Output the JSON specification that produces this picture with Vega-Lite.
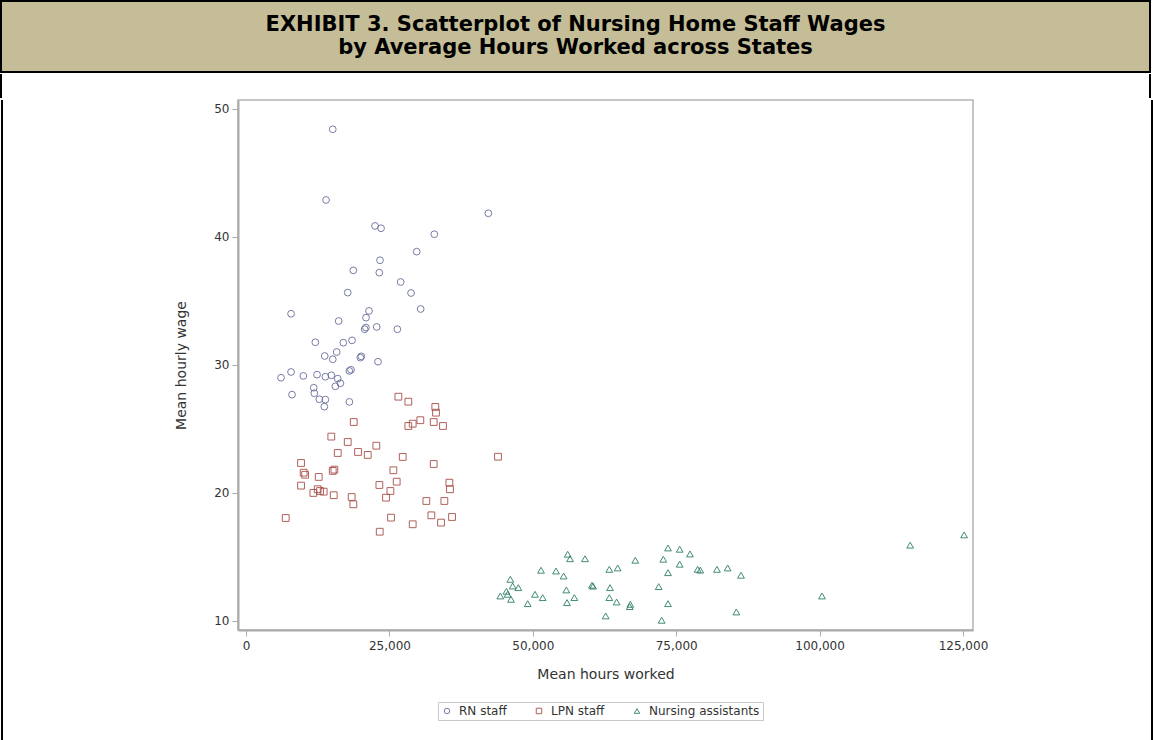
{
  "$schema": "https://vega.github.io/schema/vega-lite/v6.json",
  "padding": 0,
  "background": "white",
  "spacing": 0,
  "resolve": {"scale": {"color": "independent", "shape": "independent"}},
  "vconcat": [
    {
      "width": 1149,
      "height": 71,
      "view": {"fill": "#c4bd97", "stroke": "black", "strokeWidth": 2},
      "data": {"values": [
        {"line": 1, "text": "EXHIBIT 3. Scatterplot of Nursing Home Staff Wages"},
        {"line": 2, "text": "by Average Hours Worked across States"}
      ]},
      "mark": {"type": "text", "font": "DejaVu Sans", "fontWeight": "bold", "fontSize": 21, "color": "black", "baseline": "middle"},
      "encoding": {
        "y": {"field": "line", "type": "ordinal", "axis": null, "scale": {"type": "point", "padding": 1.11}},
        "text": {"field": "text"}
      }
    },
    {
      "width": 1149,
      "height": 24,
      "view": {"fill": "white", "stroke": "black", "strokeWidth": 2, "strokeDash": [0, 1149, 24, 1149, 24, 0]},
      "data": {"values": []},
      "mark": "point"
    },
    {
      "spacing": 162,
      "resolve": {"scale": {"color": "independent", "shape": "independent"}},
      "hconcat": [
        {
          "spacing": 170,
          "resolve": {"scale": {"color": "independent", "shape": "independent"}},
          "hconcat": [
            {
              "width": 2,
              "height": 660,
              "view": {"fill": "black", "stroke": null},
              "data": {"values": []},
              "mark": "point"
            },
            {
              "width": 735,
              "height": 530,
              "view": {"stroke": "#b4b4b4", "strokeWidth": 1.5},
              "data": {"values": [
                {"group": "RN staff", "hours": 15120, "wage": 48.39},
                {"group": "RN staff", "hours": 13950, "wage": 42.87},
                {"group": "RN staff", "hours": 42250, "wage": 41.83},
                {"group": "RN staff", "hours": 22490, "wage": 40.84},
                {"group": "RN staff", "hours": 23540, "wage": 40.66},
                {"group": "RN staff", "hours": 32830, "wage": 40.19},
                {"group": "RN staff", "hours": 29750, "wage": 38.83},
                {"group": "RN staff", "hours": 23360, "wage": 38.16},
                {"group": "RN staff", "hours": 18710, "wage": 37.37},
                {"group": "RN staff", "hours": 23240, "wage": 37.19},
                {"group": "RN staff", "hours": 26960, "wage": 36.46},
                {"group": "RN staff", "hours": 17730, "wage": 35.63},
                {"group": "RN staff", "hours": 28770, "wage": 35.60},
                {"group": "RN staff", "hours": 30450, "wage": 34.35},
                {"group": "RN staff", "hours": 7850, "wage": 33.98},
                {"group": "RN staff", "hours": 21440, "wage": 34.20},
                {"group": "RN staff", "hours": 20920, "wage": 33.67},
                {"group": "RN staff", "hours": 16150, "wage": 33.41},
                {"group": "RN staff", "hours": 22780, "wage": 32.95},
                {"group": "RN staff", "hours": 20690, "wage": 32.77},
                {"group": "RN staff", "hours": 20900, "wage": 32.90},
                {"group": "RN staff", "hours": 26380, "wage": 32.77},
                {"group": "RN staff", "hours": 12080, "wage": 31.75},
                {"group": "RN staff", "hours": 16960, "wage": 31.72},
                {"group": "RN staff", "hours": 18480, "wage": 31.90},
                {"group": "RN staff", "hours": 13720, "wage": 30.68},
                {"group": "RN staff", "hours": 15810, "wage": 30.99},
                {"group": "RN staff", "hours": 15120, "wage": 30.42},
                {"group": "RN staff", "hours": 19930, "wage": 30.55},
                {"group": "RN staff", "hours": 20100, "wage": 30.65},
                {"group": "RN staff", "hours": 23010, "wage": 30.23},
                {"group": "RN staff", "hours": 6100, "wage": 28.98},
                {"group": "RN staff", "hours": 7850, "wage": 29.43},
                {"group": "RN staff", "hours": 9990, "wage": 29.12},
                {"group": "RN staff", "hours": 12380, "wage": 29.22},
                {"group": "RN staff", "hours": 13830, "wage": 29.06},
                {"group": "RN staff", "hours": 14880, "wage": 29.17},
                {"group": "RN staff", "hours": 15990, "wage": 28.91},
                {"group": "RN staff", "hours": 15580, "wage": 28.31},
                {"group": "RN staff", "hours": 16450, "wage": 28.55},
                {"group": "RN staff", "hours": 18020, "wage": 29.51},
                {"group": "RN staff", "hours": 18300, "wage": 29.60},
                {"group": "RN staff", "hours": 11800, "wage": 28.20},
                {"group": "RN staff", "hours": 11910, "wage": 27.77},
                {"group": "RN staff", "hours": 8020, "wage": 27.66},
                {"group": "RN staff", "hours": 12780, "wage": 27.30},
                {"group": "RN staff", "hours": 13830, "wage": 27.27},
                {"group": "RN staff", "hours": 13650, "wage": 26.72},
                {"group": "RN staff", "hours": 18020, "wage": 27.09},
                {"group": "LPN staff", "hours": 26560, "wage": 27.50},
                {"group": "LPN staff", "hours": 28300, "wage": 27.11},
                {"group": "LPN staff", "hours": 33000, "wage": 26.70},
                {"group": "LPN staff", "hours": 33120, "wage": 26.25},
                {"group": "LPN staff", "hours": 30390, "wage": 25.66},
                {"group": "LPN staff", "hours": 29060, "wage": 25.39},
                {"group": "LPN staff", "hours": 28300, "wage": 25.21},
                {"group": "LPN staff", "hours": 32720, "wage": 25.52},
                {"group": "LPN staff", "hours": 34340, "wage": 25.21},
                {"group": "LPN staff", "hours": 18780, "wage": 25.52},
                {"group": "LPN staff", "hours": 14870, "wage": 24.38},
                {"group": "LPN staff", "hours": 17730, "wage": 23.96},
                {"group": "LPN staff", "hours": 22720, "wage": 23.67},
                {"group": "LPN staff", "hours": 15990, "wage": 23.10},
                {"group": "LPN staff", "hours": 19530, "wage": 23.18},
                {"group": "LPN staff", "hours": 21220, "wage": 22.95},
                {"group": "LPN staff", "hours": 27320, "wage": 22.79},
                {"group": "LPN staff", "hours": 43930, "wage": 22.81},
                {"group": "LPN staff", "hours": 9590, "wage": 22.32},
                {"group": "LPN staff", "hours": 32720, "wage": 22.24},
                {"group": "LPN staff", "hours": 10050, "wage": 21.56},
                {"group": "LPN staff", "hours": 10300, "wage": 21.40},
                {"group": "LPN staff", "hours": 15120, "wage": 21.70},
                {"group": "LPN staff", "hours": 15400, "wage": 21.80},
                {"group": "LPN staff", "hours": 12670, "wage": 21.23},
                {"group": "LPN staff", "hours": 25690, "wage": 21.75},
                {"group": "LPN staff", "hours": 26270, "wage": 20.86},
                {"group": "LPN staff", "hours": 23250, "wage": 20.60},
                {"group": "LPN staff", "hours": 9590, "wage": 20.55},
                {"group": "LPN staff", "hours": 25170, "wage": 20.13},
                {"group": "LPN staff", "hours": 24410, "wage": 19.61},
                {"group": "LPN staff", "hours": 12500, "wage": 20.27},
                {"group": "LPN staff", "hours": 12900, "wage": 20.13},
                {"group": "LPN staff", "hours": 11740, "wage": 19.98},
                {"group": "LPN staff", "hours": 13540, "wage": 20.08},
                {"group": "LPN staff", "hours": 15290, "wage": 19.80},
                {"group": "LPN staff", "hours": 18420, "wage": 19.66},
                {"group": "LPN staff", "hours": 18710, "wage": 19.09},
                {"group": "LPN staff", "hours": 35450, "wage": 20.78},
                {"group": "LPN staff", "hours": 35560, "wage": 20.27},
                {"group": "LPN staff", "hours": 31440, "wage": 19.35},
                {"group": "LPN staff", "hours": 34580, "wage": 19.35},
                {"group": "LPN staff", "hours": 6920, "wage": 18.02},
                {"group": "LPN staff", "hours": 25280, "wage": 18.05},
                {"group": "LPN staff", "hours": 29060, "wage": 17.53},
                {"group": "LPN staff", "hours": 32310, "wage": 18.23},
                {"group": "LPN staff", "hours": 34000, "wage": 17.66},
                {"group": "LPN staff", "hours": 35920, "wage": 18.10},
                {"group": "LPN staff", "hours": 23310, "wage": 16.95},
                {"group": "Nursing assistants", "hours": 56080, "wage": 15.19},
                {"group": "Nursing assistants", "hours": 56490, "wage": 14.84},
                {"group": "Nursing assistants", "hours": 59100, "wage": 14.84},
                {"group": "Nursing assistants", "hours": 67870, "wage": 14.72},
                {"group": "Nursing assistants", "hours": 73570, "wage": 15.68},
                {"group": "Nursing assistants", "hours": 75610, "wage": 15.58},
                {"group": "Nursing assistants", "hours": 77400, "wage": 15.21},
                {"group": "Nursing assistants", "hours": 72750, "wage": 14.80},
                {"group": "Nursing assistants", "hours": 75610, "wage": 14.41},
                {"group": "Nursing assistants", "hours": 73570, "wage": 13.75},
                {"group": "Nursing assistants", "hours": 78740, "wage": 14.01},
                {"group": "Nursing assistants", "hours": 79200, "wage": 13.95},
                {"group": "Nursing assistants", "hours": 82110, "wage": 14.01},
                {"group": "Nursing assistants", "hours": 83970, "wage": 14.12},
                {"group": "Nursing assistants", "hours": 86300, "wage": 13.55},
                {"group": "Nursing assistants", "hours": 51430, "wage": 13.94},
                {"group": "Nursing assistants", "hours": 54050, "wage": 13.88},
                {"group": "Nursing assistants", "hours": 55380, "wage": 13.49},
                {"group": "Nursing assistants", "hours": 63340, "wage": 14.01},
                {"group": "Nursing assistants", "hours": 64800, "wage": 14.12},
                {"group": "Nursing assistants", "hours": 46080, "wage": 13.23},
                {"group": "Nursing assistants", "hours": 47480, "wage": 12.58},
                {"group": "Nursing assistants", "hours": 46490, "wage": 12.71},
                {"group": "Nursing assistants", "hours": 44340, "wage": 11.93},
                {"group": "Nursing assistants", "hours": 45610, "wage": 12.06},
                {"group": "Nursing assistants", "hours": 46200, "wage": 11.67},
                {"group": "Nursing assistants", "hours": 45400, "wage": 12.30},
                {"group": "Nursing assistants", "hours": 50380, "wage": 12.06},
                {"group": "Nursing assistants", "hours": 51720, "wage": 11.80},
                {"group": "Nursing assistants", "hours": 49110, "wage": 11.33},
                {"group": "Nursing assistants", "hours": 55840, "wage": 12.40},
                {"group": "Nursing assistants", "hours": 57240, "wage": 11.80},
                {"group": "Nursing assistants", "hours": 55960, "wage": 11.41},
                {"group": "Nursing assistants", "hours": 60320, "wage": 12.77},
                {"group": "Nursing assistants", "hours": 60500, "wage": 12.70},
                {"group": "Nursing assistants", "hours": 63460, "wage": 12.58},
                {"group": "Nursing assistants", "hours": 63340, "wage": 11.80},
                {"group": "Nursing assistants", "hours": 64620, "wage": 11.46},
                {"group": "Nursing assistants", "hours": 67000, "wage": 11.28},
                {"group": "Nursing assistants", "hours": 66900, "wage": 11.10},
                {"group": "Nursing assistants", "hours": 71950, "wage": 12.66},
                {"group": "Nursing assistants", "hours": 73570, "wage": 11.33},
                {"group": "Nursing assistants", "hours": 62710, "wage": 10.37},
                {"group": "Nursing assistants", "hours": 72470, "wage": 10.03},
                {"group": "Nursing assistants", "hours": 85490, "wage": 10.68},
                {"group": "Nursing assistants", "hours": 100420, "wage": 11.93},
                {"group": "Nursing assistants", "hours": 115800, "wage": 15.90},
                {"group": "Nursing assistants", "hours": 125200, "wage": 16.70}
              ]},
              "mark": {"type": "point", "filled": false, "strokeWidth": 1, "size": 46, "opacity": 0.9},
              "encoding": {
                "x": {"field": "hours", "type": "quantitative",
                  "scale": {"domain": [-1400, 126750], "nice": false, "zero": false},
                  "axis": {"values": [0, 25000, 50000, 75000, 100000, 125000], "format": ",.0f", "title": "Mean hours worked", "titlePadding": 16, "labelPadding": 4}},
                "y": {"field": "wage", "type": "quantitative",
                  "scale": {"domain": [9.27, 50.68], "nice": false, "zero": false},
                  "axis": {"values": [10, 20, 30, 40, 50], "title": "Mean hourly wage", "labelPadding": 3, "titlePadding": 25}},
                "color": {"field": "group", "type": "nominal",
                  "scale": {"domain": ["RN staff", "LPN staff", "Nursing assistants"], "range": ["#6a6f9c", "#a8504a", "#2f7f6b"]},
                  "legend": {"title": null, "orient": "none", "direction": "horizontal", "legendX": 200, "legendY": 602}},
                "shape": {"field": "group", "type": "nominal",
                  "scale": {"domain": ["RN staff", "LPN staff", "Nursing assistants"], "range": ["circle", "square", "triangle-up"]},
                  "legend": {"title": null, "orient": "none", "direction": "horizontal", "legendX": 200, "legendY": 602}}
              }
            }
          ]
        },
        {
          "width": 2,
          "height": 660,
          "view": {"fill": "black", "stroke": null},
          "data": {"values": []},
          "mark": "point"
        }
      ]
    }
  ],
  "config": {
    "font": "DejaVu Sans",
    "axis": {
      "grid": false,
      "labelFont": "DejaVu Sans", "labelFontSize": 12, "labelColor": "#333",
      "titleFont": "DejaVu Sans", "titleFontSize": 14, "titleFontWeight": "normal", "titleColor": "#333",
      "domainColor": "#aaaaaa", "domainWidth": 2, "tickColor": "#aaaaaa", "tickSize": 6
    },
    "legend": {
      "labelFont": "DejaVu Sans", "labelFontSize": 12, "labelColor": "#333",
      "symbolSize": 30, "symbolStrokeWidth": 1, "labelOffset": 6,
      "strokeColor": "#c8c8c8", "padding": 3, "columnPadding": 26
    }
  }
}
